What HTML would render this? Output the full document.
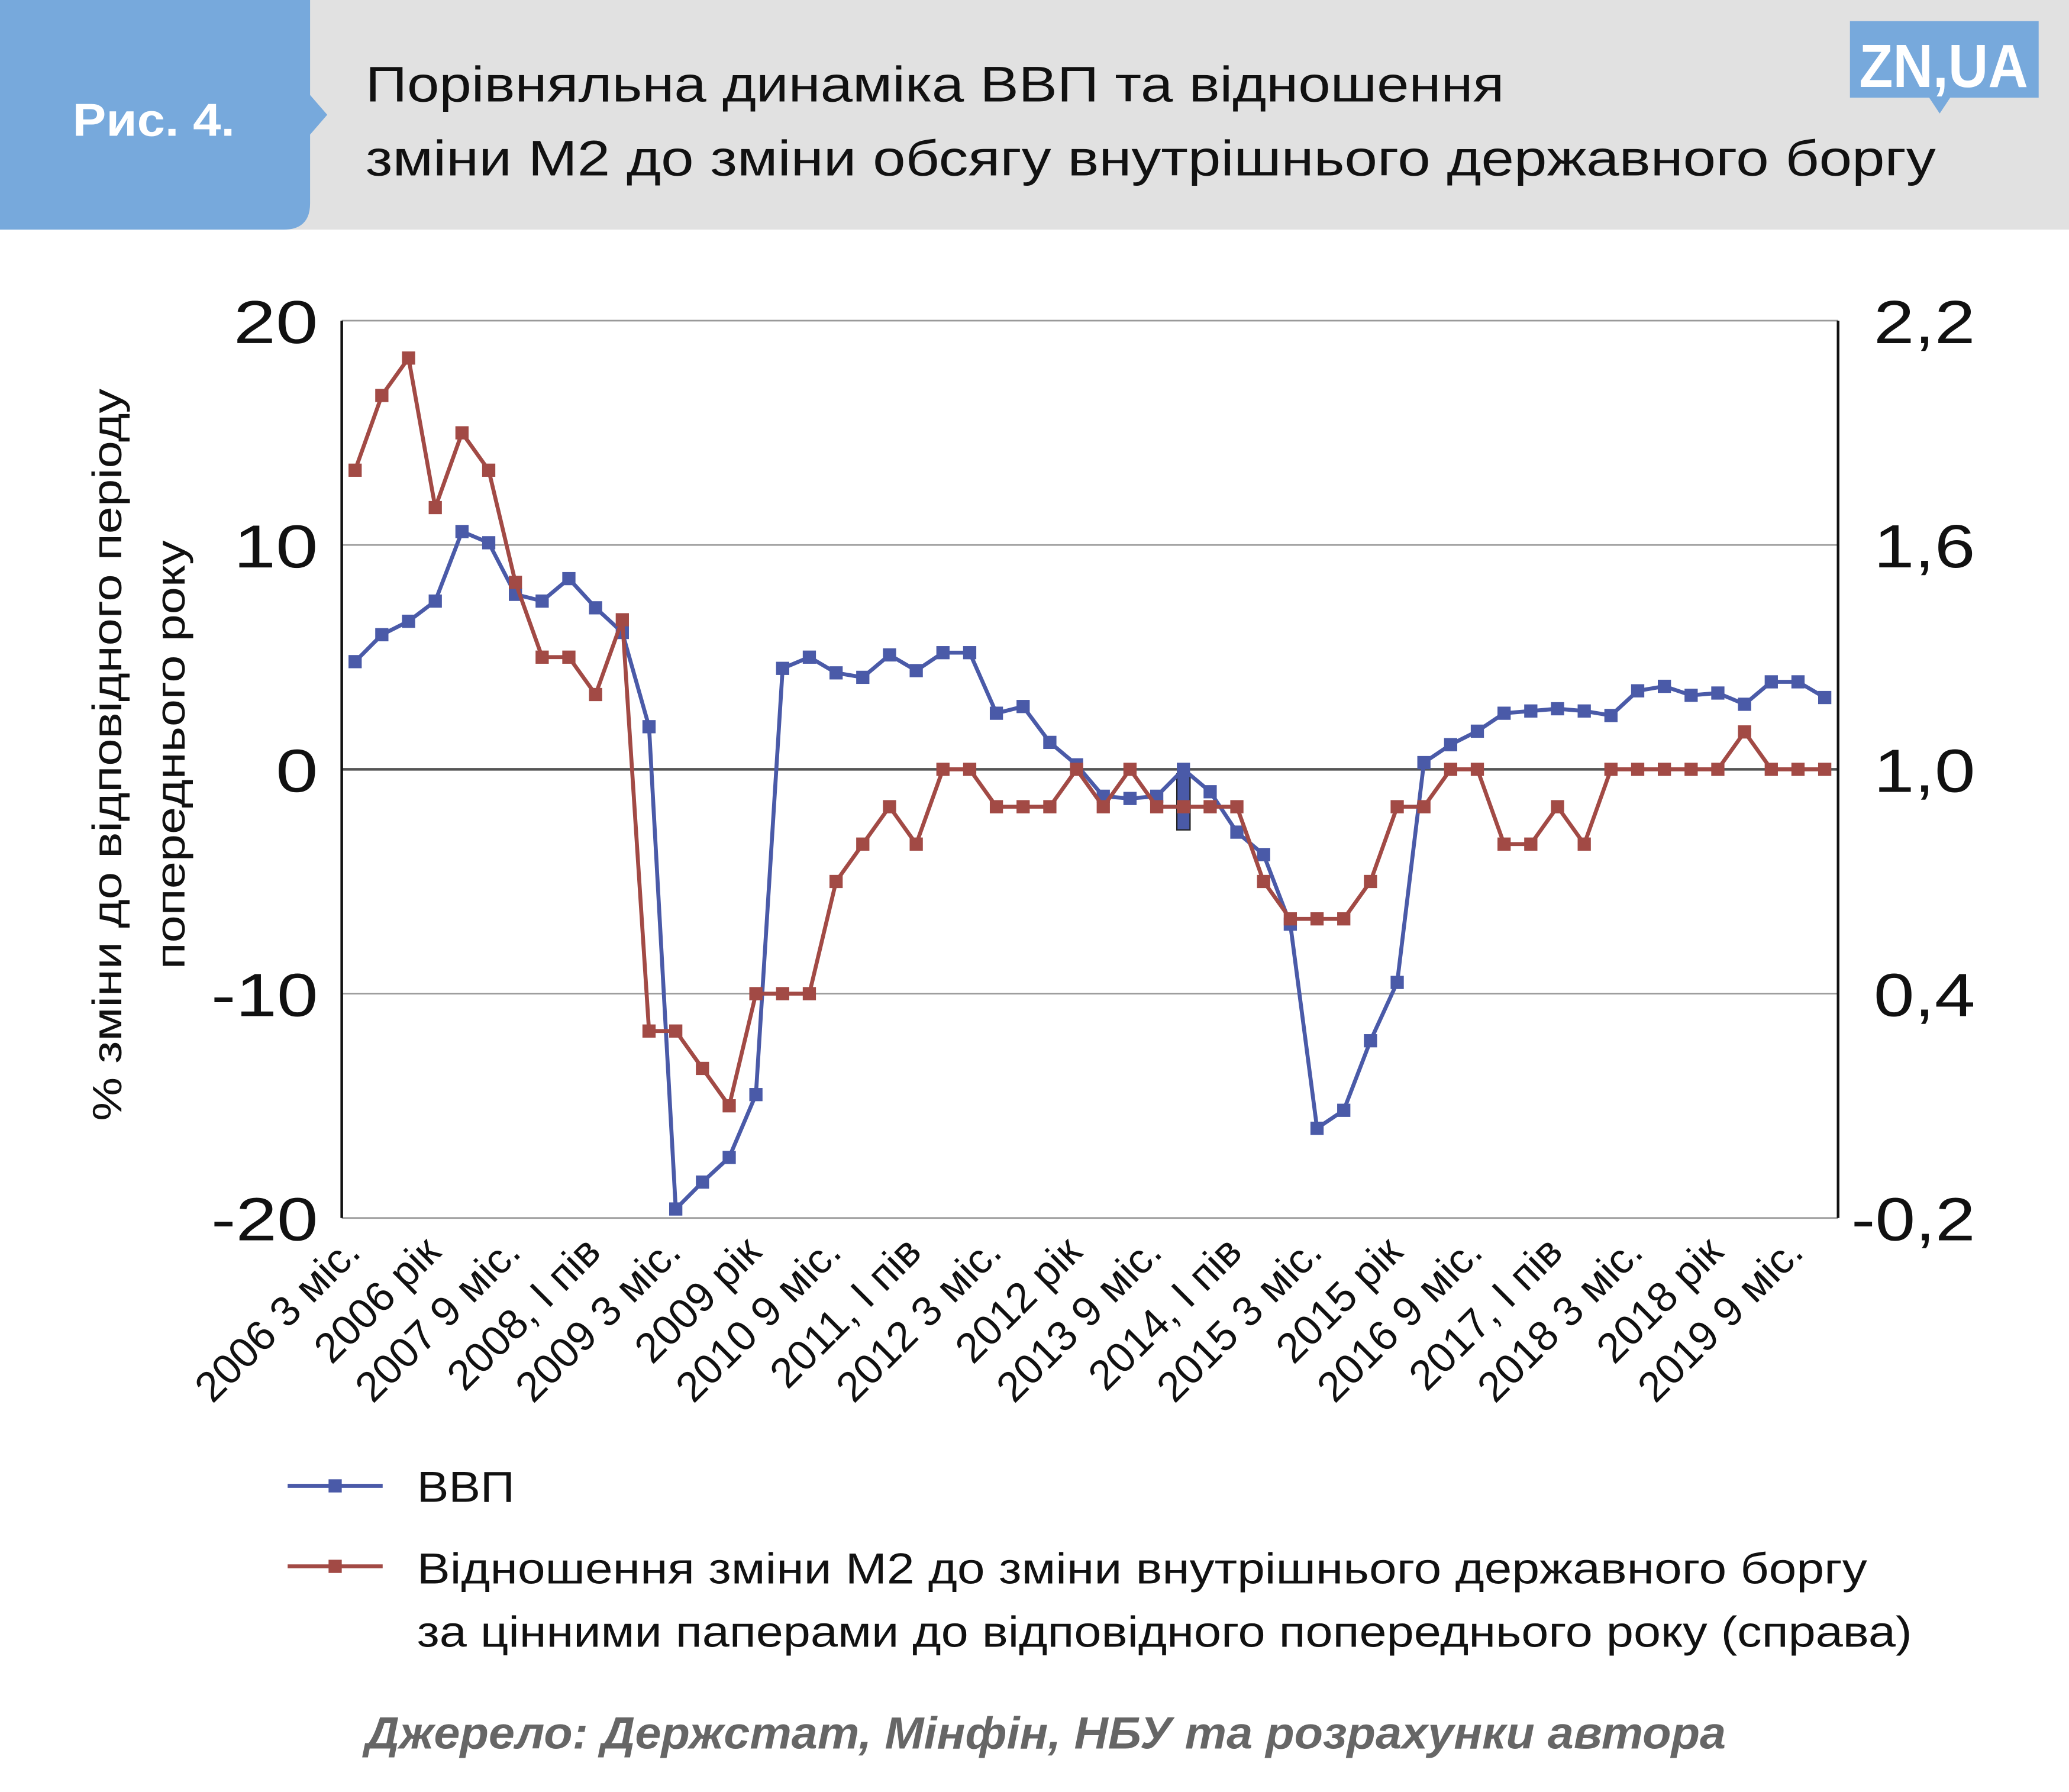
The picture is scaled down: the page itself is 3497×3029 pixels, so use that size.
<!DOCTYPE html>
<html><head><meta charset="utf-8"><style>
html,body{margin:0;padding:0;background:#fff}
svg{display:block}
text{font-family:"Liberation Sans","DejaVu Sans",sans-serif}
</style></head><body>
<svg id="chart" width="3497" height="3029" viewBox="0 0 1568 1358" preserveAspectRatio="none" xmlns="http://www.w3.org/2000/svg">
<rect x="0" y="0" width="1568" height="174" fill="#e1e1e1"/>
<path d="M0 0 H235 V72 L248 87 L235 102 V154 Q235 174 215 174 H0 Z" fill="#77a9dc"/>
<text x="55" y="103" font-size="35" font-weight="bold" fill="#fff" textLength="123" lengthAdjust="spacingAndGlyphs">Рис. 4.</text>
<text x="277" y="77" font-size="38" fill="#111" textLength="863" lengthAdjust="spacingAndGlyphs">Порівняльна динаміка ВВП та відношення</text>
<text x="277" y="133" font-size="38" fill="#111" textLength="1190" lengthAdjust="spacingAndGlyphs">зміни М2 до зміни обсягу внутрішнього державного боргу</text>
<g>
<rect x="1402" y="16" width="143" height="58" fill="#77a9dc"/>
<path d="M1462 74 L1470 86 L1478 74 Z" fill="#77a9dc"/>
<text x="1473" y="66" font-size="46" font-weight="bold" fill="#fff" text-anchor="middle" textLength="128" lengthAdjust="spacingAndGlyphs">ZN,UA</text>
</g>
<g id="plot"></g>
<text transform="translate(92,572) rotate(-90)" font-size="31" text-anchor="middle" fill="#111" textLength="555" lengthAdjust="spacingAndGlyphs">% зміни до відповідного періоду</text>
<text transform="translate(140,572) rotate(-90)" font-size="31" text-anchor="middle" fill="#111" textLength="325" lengthAdjust="spacingAndGlyphs">попереднього року</text>
<g>
<line x1="218" y1="1126" x2="290" y2="1126" stroke="#4a5aa8" stroke-width="3"/>
<rect x="249" y="1121" width="10" height="10" fill="#4a5aa8"/>
<text x="316" y="1138" font-size="33" fill="#111" textLength="74" lengthAdjust="spacingAndGlyphs">ВВП</text>
<line x1="218" y1="1187" x2="290" y2="1187" stroke="#a24a45" stroke-width="3"/>
<rect x="249" y="1182" width="10" height="10" fill="#a24a45"/>
<text x="316" y="1200" font-size="33" fill="#111" textLength="1099" lengthAdjust="spacingAndGlyphs">Відношення зміни М2 до зміни внутрішнього державного боргу</text>
<text x="316" y="1248" font-size="33" fill="#111" textLength="1133" lengthAdjust="spacingAndGlyphs">за цінними паперами до відповідного попереднього року (справа)</text>
</g>
<text x="277" y="1325" font-size="34" font-weight="bold" font-style="italic" fill="#666" textLength="1031" lengthAdjust="spacingAndGlyphs">Джерело: Держстат, Мінфін, НБУ та розрахунки автора</text>
</svg>
<script>
const gdpValues = [4.8,6.0,6.6,7.5,10.6,10.1,7.8,7.5,8.5,7.2,6.1,1.9,-19.6,-18.4,-17.3,-14.5,4.5,5.0,4.3,4.1,5.1,4.4,5.2,5.2,2.5,2.8,1.2,0.2,-1.2,-1.3,-1.2,0.0,-1.0,-2.8,-3.8,-6.9,-16.0,-15.2,-12.1,-9.5,0.3,1.1,1.7,2.5,2.6,2.7,2.6,2.4,3.5,3.7,3.3,3.4,2.9,3.9,3.9,3.2];
const ratioValues = [1.8,2.0,2.1,1.7,1.9,1.8,1.5,1.3,1.3,1.2,1.4,0.3,0.3,0.2,0.1,0.4,0.4,0.4,0.7,0.8,0.9,0.8,1.0,1.0,0.9,0.9,0.9,1.0,0.9,1.0,0.9,0.9,0.9,0.9,0.7,0.6,0.6,0.6,0.7,0.9,0.9,1.0,1.0,0.8,0.8,0.9,0.8,1.0,1.0,1.0,1.0,1.0,1.1,1.0,1.0,1.0];
const xLabels = ["2006 3 міс.","2006 рік","2007 9 міс.","2008, I пів","2009 3 міс.","2009 рік","2010 9 міс.","2011, I пів","2012 3 міс.","2012 рік","2013 9 міс.","2014, I пів","2015 3 міс.","2015 рік","2016 9 міс.","2017, I пів","2018 3 міс.","2018 рік","2019 9 міс."];
const leftTicks = [20,10,0,-10,-20];
const rightTicks = ["2,2","1,6","1,0","0,4","-0,2"];
const NS="http://www.w3.org/2000/svg";
const PL=259, PR=1393, PT=243, PB=923;
const n=gdpValues.length;
function xPos(i){return PL+(PR-PL)/n*(i+0.5);}
function yLeft(v){return PT+(20-v)/40*(PB-PT);}
function yRight(v){return PT+(2.2-v)/2.4*(PB-PT);}
const g=document.getElementById('plot');
function mk(tag,attrs){const e=document.createElementNS(NS,tag);for(const k in attrs)e.setAttribute(k,attrs[k]);g.appendChild(e);return e;}
leftTicks.forEach((t,i)=>{
  const y=yLeft(t);
  const l=mk('line',{x1:PL,x2:PR,y1:y,y2:y,stroke:t===0?'#555':'#999','stroke-width':t===0?2:1.2});
  
  
  const s=String(t);
  const tx=mk('text',{x:241,y:y+17,'font-size':46,'text-anchor':'end',fill:'#111',textLength:s.length===1?32:(s.length===2?64:81),lengthAdjust:'spacingAndGlyphs'});
  tx.textContent=s;
  
  
  const r=rightTicks[i];
  const rx=mk('text',{x:1497,y:y+17,'font-size':46,'text-anchor':'end',fill:'#111',textLength:r.length===3?77:94,lengthAdjust:'spacingAndGlyphs'});
  rx.textContent=r;
  
  
});
const la=mk('line',{x1:PL,x2:PL,y1:PT,y2:PB,stroke:'#111','stroke-width':2});


const ra=mk('line',{x1:PR,x2:PR,y1:PT,y2:PB,stroke:'#111','stroke-width':2});


xLabels.forEach((lab,k)=>{
  const x=xPos(k*3);
  const t=mk('text',{transform:`translate(${x-10},935) rotate(-45)`,x:0,y:22,'font-size':32,'text-anchor':'end',fill:'#111'});
  t.textContent=lab;
  
  
});
function series(vals,yf,color,name){
  const pts=vals.map((v,i)=>xPos(i)+','+yf(v)).join(' ');
  const p=mk('polyline',{points:pts,fill:'none',stroke:color,'stroke-width':3,'stroke-linejoin':'round'});
  
  
  vals.forEach((v,i)=>{
    const r=mk('rect',{x:xPos(i)-5,y:yf(v)-5,width:10,height:10,fill:color});
    
    
  });
}
const oddBox=mk('rect',{x:xPos(31)-5,y:yLeft(-0.2),width:10,height:yLeft(-2.7)-yLeft(-0.2),fill:'#4a5aa8',stroke:'#222','stroke-width':1});


series(gdpValues,yLeft,'#4a5aa8','gdp');
series(ratioValues,yRight,'#a24a45','ratio');
</script>
</body></html>
